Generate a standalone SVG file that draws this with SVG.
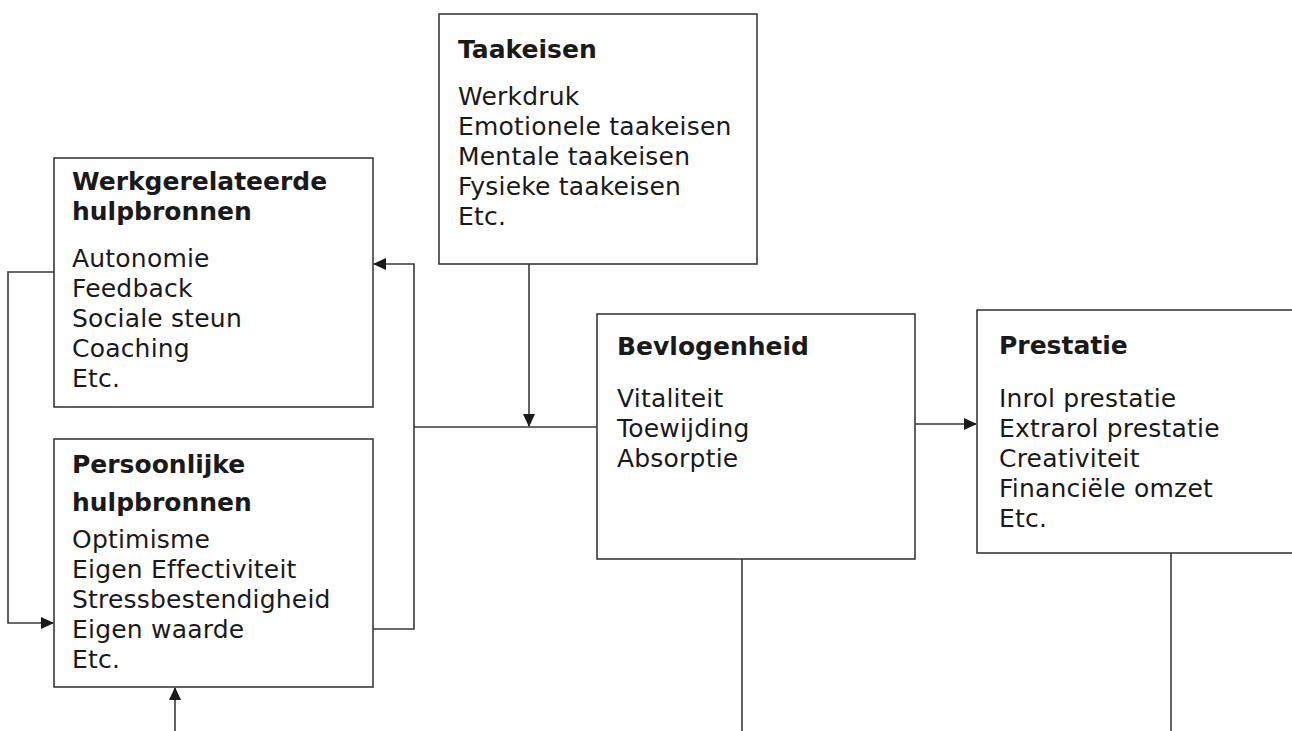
<svg xmlns="http://www.w3.org/2000/svg" width="1292" height="731" viewBox="0 0 1292 731">
<style>
.box{fill:#fff;stroke:#3a3a3a;stroke-width:1.6}
.t{font-family:"DejaVu Sans","Liberation Sans",sans-serif;font-size:25px;fill:#1a1a1a;letter-spacing:0.2px}
.h{font-family:"DejaVu Sans","Liberation Sans",sans-serif;font-size:25px;font-weight:bold;fill:#1a1a1a}
.c{fill:none;stroke:#3a3a3a;stroke-width:1.6}
</style>
<defs>
<marker id="ah" markerWidth="13" markerHeight="12" refX="12" refY="6" orient="auto" markerUnits="userSpaceOnUse">
<path d="M0,0 L13,6 L0,12 Z" fill="#1a1a1a"/>
</marker>
</defs>
<g id="connectors">
<path class="c" d="M54,272 H8 V623 H53" marker-end="url(#ah)"/>
<path class="c" d="M373,629 H414 V264 H374" marker-end="url(#ah)"/>
<path class="c" d="M414,427 H597"/>
<path class="c" d="M529,264 V426" marker-end="url(#ah)"/>
<path class="c" d="M915,424 H976" marker-end="url(#ah)"/>
<path class="c" d="M742,559 V731"/>
<path class="c" d="M1171,553 V731"/>
<path class="c" d="M175,731 V688" marker-end="url(#ah)"/>
</g>
<g id="werkgerelateerde">
<rect class="box" x="54" y="158" width="319" height="249"/>
<text class="h" x="72" y="190">Werkgerelateerde</text>
<text class="h" x="72" y="220">hulpbronnen</text>
<text class="t" x="72" y="267">Autonomie</text>
<text class="t" x="72" y="297">Feedback</text>
<text class="t" x="72" y="327">Sociale steun</text>
<text class="t" x="72" y="357">Coaching</text>
<text class="t" x="72" y="387">Etc.</text>
</g>
<g id="persoonlijke">
<rect class="box" x="54" y="439" width="319" height="248"/>
<text class="h" x="72" y="473">Persoonlijke</text>
<text class="h" x="72" y="511">hulpbronnen</text>
<text class="t" x="72" y="548">Optimisme</text>
<text class="t" x="72" y="578">Eigen Effectiviteit</text>
<text class="t" x="72" y="608">Stressbestendigheid</text>
<text class="t" x="72" y="638">Eigen waarde</text>
<text class="t" x="72" y="668">Etc.</text>
</g>
<g id="taakeisen">
<rect class="box" x="439" y="14" width="318" height="250"/>
<text class="h" x="458" y="58">Taakeisen</text>
<text class="t" x="458" y="105">Werkdruk</text>
<text class="t" x="458" y="135">Emotionele taakeisen</text>
<text class="t" x="458" y="165">Mentale taakeisen</text>
<text class="t" x="458" y="195">Fysieke taakeisen</text>
<text class="t" x="458" y="225">Etc.</text>
</g>
<g id="bevlogenheid">
<rect class="box" x="597" y="314" width="318" height="245"/>
<text class="h" x="617" y="355">Bevlogenheid</text>
<text class="t" x="617" y="407">Vitaliteit</text>
<text class="t" x="617" y="437">Toewijding</text>
<text class="t" x="617" y="467">Absorptie</text>
</g>
<g id="prestatie">
<rect class="box" x="977" y="310" width="330" height="243"/>
<text class="h" x="999" y="354">Prestatie</text>
<text class="t" x="999" y="407">Inrol prestatie</text>
<text class="t" x="999" y="437">Extrarol prestatie</text>
<text class="t" x="999" y="467">Creativiteit</text>
<text class="t" x="999" y="497">Financiële omzet</text>
<text class="t" x="999" y="527">Etc.</text>
</g>
</svg>
